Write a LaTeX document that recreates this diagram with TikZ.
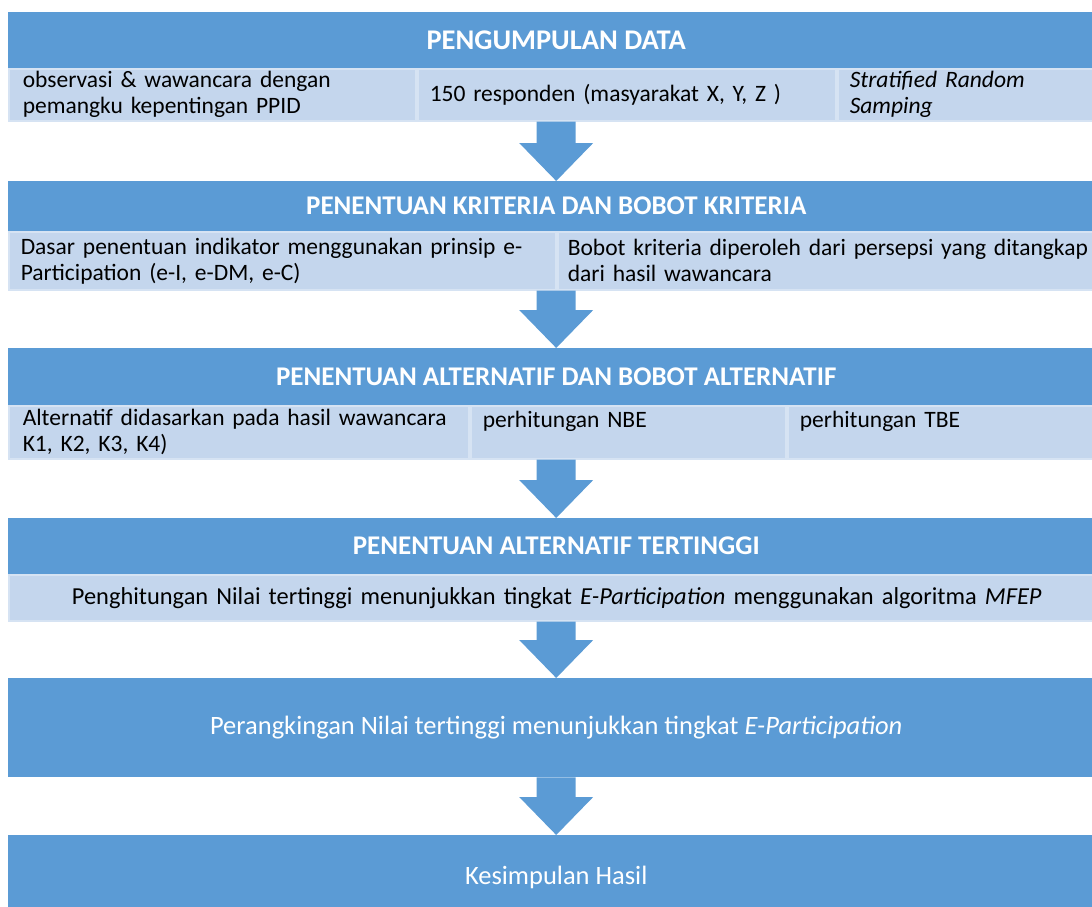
\documentclass[tikz,border=0pt]{standalone}
\usepackage{fontspec}
\setmainfont{Carlito}
\usetikzlibrary{calc}
\definecolor{stageblue}{HTML}{5B9BD5}
\definecolor{cellblue}{HTML}{C4D6ED}
\definecolor{cellline}{HTML}{D6E3F3}
\newcommand{\stagearrow}[2]{\fill[stageblue] let \p1=(#1), \p2=(#2) in
	(\x1-19.5pt,\y1) -- (\x1+19.5pt,\y1) -- (\x1+19.5pt,\y2+38pt) -- (\x1+37pt,\y2+38pt) -- (\x1,\y2)
	-- (\x1-37pt,\y2+38pt) -- (\x1-19.5pt,\y2+38pt) -- cycle;}

\begin{document}
\begin{tikzpicture}[x=1pt, y=-1pt,
	stage/.style={rectangle, fill=stageblue, anchor=north west, inner sep=0pt,
		minimum width=1096pt, text=white, font=\fontsize{27}{30}\selectfont\bfseries},
	cell/.style={rectangle, fill=cellblue, draw=cellline, line width=1.5pt, anchor=north west,
		inner xsep=12pt, inner ysep=0pt, align=left, font=\fontsize{23.5}{26}\selectfont},
	result/.style={stage, font=\fontsize{26.5}{30}\selectfont}
	]
	\useasboundingbox (0,0) rectangle (1092,906);
	\clip (0,0) rectangle (1092,906);
	
	\node[stage, minimum height=56pt, font=\fontsize{28.5}{30}\selectfont\bfseries] (hdData) at (8,12) {PENGUMPULAN DATA};
	\node[cell, text width=379pt, minimum height=52pt, inner xsep=14pt] (dataA) at (8,68) {observasi \& wawancara dengan\\pemangku kepentingan PPID};
	\node[cell, text width=394pt, minimum height=52pt] (dataB) at (417,68) {150 responden (masyarakat X, Y, Z )};
	\node[cell, text width=243pt, minimum height=52pt] (dataC) at (837,68) {\textit{Stratified Random}\\\textit{Samping}};
	
	\node[stage, minimum height=50pt] (hdCrit) at (8,181) {PENENTUAN KRITERIA DAN BOBOT KRITERIA};
	\node[cell, text width=523pt, minimum height=58pt] (critA) at (8,231) {Dasar penentuan indikator menggunakan prinsip e-\\Participation (e-I, e-DM, e-C)};
	\node[cell, text width=527pt, minimum height=58pt, inner xsep=10pt] (critB) at (557,231) {Bobot kriteria diperoleh dari persepsi yang ditangkap\\dari hasil wawancara};
	
	\node[stage, minimum height=57pt] (hdAlt) at (8,348) {PENENTUAN ALTERNATIF DAN BOBOT ALTERNATIF};
	\node[cell, text width=432pt, minimum height=53pt, inner xsep=14pt] (altA) at (8,405) {Alternatif didasarkan pada hasil wawancara\\K1, K2, K3, K4)};
	\node[cell, text width=291pt, minimum height=53pt] (altB) at (470,405) {perhitungan NBE\\\phantom{K}};
	\node[cell, text width=293pt, minimum height=53pt] (altC) at (787,405) {perhitungan TBE\\\phantom{K}};
	
	\node[stage, minimum height=56pt] (hdTop) at (8,518) {PENENTUAN ALTERNATIF TERTINGGI};
	\node[cell, align=center, text width=1072pt, minimum height=46pt, font=\fontsize{24.4}{26}\selectfont] (topA) at (8,574) {Penghitungan Nilai tertinggi menunjukkan tingkat \textit{E-Participation} menggunakan algoritma \textit{MFEP}};
	
	\node[result, minimum height=99pt] (rank) at (8,678) {Perangkingan Nilai tertinggi menunjukkan tingkat \textit{E-Participation}};
	\node[result, minimum height=84pt] (concl) at (8,835) {Kesimpulan Hasil};
	
	\stagearrow{hdData |- dataB.south}{hdCrit.north}
	\stagearrow{hdCrit |- critA.south}{hdAlt.north}
	\stagearrow{hdAlt |- altA.south}{hdTop.north}
	\stagearrow{hdTop |- topA.south}{rank.north}
	\stagearrow{rank.south}{concl.north}
\end{tikzpicture}
\end{document}
